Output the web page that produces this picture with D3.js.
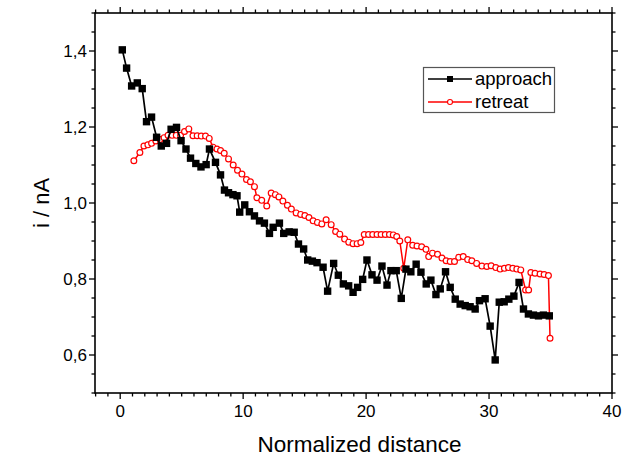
<!DOCTYPE html>
<html>
<head>
<meta charset="utf-8">
<script src="https://cdn.jsdelivr.net/npm/d3@7"></script>
<style>
  body { margin: 0; background: #fff; }
  svg { font-family: "Liberation Sans", Arial, sans-serif; }
</style>
</head>
<body>
<div id="chart"></div>
<script>
// approach (black squares)
const approachX = [0.17, 0.52, 0.93, 1.39, 1.79, 2.14, 2.55, 2.96, 3.34, 3.77,
  4.14, 4.58, 4.95, 5.35, 5.72, 6.15, 6.57, 6.99, 7.26, 7.75,
  8.16, 8.48, 8.81, 9.17, 9.5, 9.72, 10.13, 10.51, 10.92, 11.33,
  11.73, 12.14, 12.44, 12.95, 13.3, 13.74, 14.15, 14.5, 14.92, 15.25,
  15.63, 16.01, 16.5, 16.87, 17.36, 17.74, 18.15, 18.58, 18.94, 19.31,
  19.72, 20.07, 20.48, 20.89, 21.29, 21.7, 22.02, 22.45, 22.86, 23.24,
  23.64, 24.07, 24.46, 24.89, 25.27, 25.68, 26.03, 26.46, 26.84, 27.25,
  27.65, 28.06, 28.46, 28.87, 29.22, 29.68, 30.09, 30.5, 30.83, 31.23,
  31.61, 32.02, 32.44, 32.8, 33.2, 33.61, 34.02, 34.42, 34.9];
const approachY = [1.403, 1.355, 1.308, 1.316, 1.301, 1.214, 1.226, 1.173, 1.150, 1.157,
  1.194, 1.199, 1.164, 1.142, 1.118, 1.104, 1.095, 1.101, 1.142, 1.107,
  1.074, 1.034, 1.027, 1.022, 1.019, 0.976, 0.995, 0.977, 0.966, 0.953,
  0.947, 0.920, 0.936, 0.947, 0.920, 0.924, 0.923, 0.892, 0.879, 0.850,
  0.847, 0.843, 0.831, 0.768, 0.841, 0.810, 0.787, 0.782, 0.765, 0.778,
  0.799, 0.850, 0.811, 0.797, 0.834, 0.784, 0.822, 0.822, 0.749, 0.826,
  0.819, 0.839, 0.818, 0.787, 0.797, 0.759, 0.774, 0.819, 0.778, 0.747,
  0.734, 0.730, 0.727, 0.721, 0.743, 0.748, 0.676, 0.587, 0.739, 0.740,
  0.747, 0.755, 0.791, 0.721, 0.708, 0.705, 0.703, 0.705, 0.703];

// retreat (red open circles)
const retreatX = [1.11, 1.60, 1.93, 2.25, 2.55, 2.90, 3.24, 3.57, 3.89, 4.22,
  4.56, 4.91, 5.23, 5.58, 5.92, 6.26, 6.59, 6.94, 7.24, 7.55,
  7.87, 8.16, 8.46, 8.81, 9.19, 9.54, 9.90, 10.27, 10.59, 10.92,
  11.12, 11.51, 11.92, 12.28, 12.62, 12.91, 13.23, 13.60, 13.92, 14.31,
  14.68, 15.02, 15.35, 15.69, 16.04, 16.40, 16.75, 17.16, 17.52, 17.86,
  18.25, 18.59, 18.94, 19.27, 19.57, 19.85, 20.20, 20.54, 20.89, 21.22,
  21.56, 21.90, 22.21, 22.49, 22.74, 23.06, 23.39, 23.79, 24.14, 24.52,
  24.87, 25.09, 25.40, 25.81, 26.17, 26.51, 26.84, 27.19, 27.53, 27.90,
  28.26, 28.60, 28.99, 29.42, 29.82, 30.17, 30.55, 30.90, 31.25, 31.58,
  31.93, 32.26, 32.58, 32.97, 33.22, 33.40, 33.74, 34.15, 34.48, 34.83,
  34.96];
const retreatY = [1.111, 1.133, 1.150, 1.153, 1.157, 1.163, 1.167, 1.172, 1.178, 1.178,
  1.178, 1.178, 1.188, 1.195, 1.177, 1.177, 1.176, 1.176, 1.170, 1.147,
  1.142, 1.138, 1.131, 1.116, 1.100, 1.086, 1.076, 1.062, 1.056, 1.043,
  1.014, 1.007, 0.992, 1.026, 1.022, 1.016, 1.005, 0.994, 0.984, 0.974,
  0.970, 0.967, 0.962, 0.953, 0.949, 0.945, 0.956, 0.943, 0.925, 0.918,
  0.905, 0.897, 0.893, 0.893, 0.896, 0.917, 0.917, 0.917, 0.917, 0.917,
  0.917, 0.917, 0.916, 0.912, 0.900, 0.828, 0.903, 0.889, 0.887, 0.885,
  0.878, 0.859, 0.868, 0.865, 0.855, 0.848, 0.846, 0.846, 0.857, 0.859,
  0.851, 0.848, 0.841, 0.834, 0.833, 0.835, 0.830, 0.826, 0.828, 0.830,
  0.828, 0.826, 0.824, 0.771, 0.771, 0.817, 0.815, 0.813, 0.812, 0.809,
  0.644];

const xTickLabels = [0, 10, 20, 30, 40];
const yTickLabels = [0.6, 0.8, 1.0, 1.2, 1.4];
const legendNames = ["approach", "retreat"];

const width = 622, height = 459;
const margin = { top: 13, right: 10, bottom: 66, left: 95 };

const svg = d3.select("#chart").append("svg")
  .attr("width", width)
  .attr("height", height);

const x = d3.scaleLinear().domain([-2.05, 40]).range([margin.left, width - margin.right]);
const y = d3.scaleLinear().domain([0.5, 1.5]).range([height - margin.bottom, margin.top]);

const comma = d3.formatLocale({ decimal: ",", thousands: ".", grouping: [3], currency: ["", ""] });
const fmtY = comma.format(".1f");

// minor + major ticks on all four sides
const xMinor = d3.range(-2, 41, 1);
const yMinor = d3.range(0.5, 1.501, 0.05);

function isMajorX(v) { return Math.abs(v % 10) < 1e-6; }
function isMajorY(v) { return yTickLabels.some(t => Math.abs(t - v) < 1e-6); }

const x0 = margin.left, x1 = width - margin.right;
const y0 = height - margin.bottom, y1 = margin.top;

const ticks = svg.append("g").attr("stroke", "#000").attr("stroke-width", 1.3);
xMinor.forEach(v => {
  const len = isMajorX(v) ? 6 : 3.5;
  ticks.append("line").attr("x1", x(v)).attr("x2", x(v)).attr("y1", y0).attr("y2", y0 + len);
  ticks.append("line").attr("x1", x(v)).attr("x2", x(v)).attr("y1", y1).attr("y2", y1 - len);
});
yMinor.forEach(v => {
  const len = isMajorY(v) ? 6 : 3.5;
  ticks.append("line").attr("x1", x0).attr("x2", x0 - len).attr("y1", y(v)).attr("y2", y(v));
  ticks.append("line").attr("x1", x1).attr("x2", x1 + len).attr("y1", y(v)).attr("y2", y(v));
});

// frame
svg.append("rect")
  .attr("x", x0).attr("y", y1)
  .attr("width", x1 - x0).attr("height", y0 - y1)
  .attr("fill", "none").attr("stroke", "#000").attr("stroke-width", 1.6);

// tick labels
svg.append("g").selectAll("text")
  .data(xTickLabels)
  .enter().append("text")
  .attr("x", d => x(d)).attr("y", y0 + 24)
  .attr("text-anchor", "middle")
  .style("font-size", "17px")
  .text(d => d);

svg.append("g").selectAll("text")
  .data(yTickLabels)
  .enter().append("text")
  .attr("x", x0 - 8).attr("y", d => y(d) + 6)
  .attr("text-anchor", "end")
  .style("font-size", "17px")
  .text(d => fmtY(d));

// axis titles
svg.append("text")
  .attr("x", (x0 + x1) / 2 + 6).attr("y", 452)
  .attr("text-anchor", "middle")
  .style("font-size", "22.5px")
  .text("Normalized distance");

svg.append("text")
  .attr("transform", `translate(49, ${(y0 + y1) / 2}) rotate(-90)`)
  .attr("text-anchor", "middle")
  .style("font-size", "22px")
  .text("i / nA");

const approach = approachX.map((v, i) => [v, approachY[i]]);
const retreat = retreatX.map((v, i) => [v, retreatY[i]]);
const line = d3.line().x(d => x(d[0])).y(d => y(d[1]));

// retreat
svg.append("path").datum(retreat)
  .attr("d", line).attr("fill", "none")
  .attr("stroke", "#ff0000").attr("stroke-width", 1.5);
svg.append("g").selectAll("circle")
  .data(retreat).enter().append("circle")
  .attr("cx", d => x(d[0])).attr("cy", d => y(d[1]))
  .attr("r", 2.9)
  .attr("fill", "#fff").attr("stroke", "#ff0000").attr("stroke-width", 1.2);

// approach
svg.append("path").datum(approach)
  .attr("d", line).attr("fill", "none")
  .attr("stroke", "#000").attr("stroke-width", 1.7);
svg.append("g").selectAll("rect")
  .data(approach).enter().append("rect")
  .attr("x", d => x(d[0]) - 3.7).attr("y", d => y(d[1]) - 3.7)
  .attr("width", 7.4).attr("height", 7.4)
  .attr("fill", "#000");

// legend
const lg = svg.append("g");
lg.append("rect")
  .attr("x", 423.5).attr("y", 67.5).attr("width", 131).attr("height", 45)
  .attr("fill", "#fff").attr("stroke", "#555").attr("stroke-width", 1.2);
const rows = [
  { name: legendNames[0], color: "#000", y: 79 },
  { name: legendNames[1], color: "#ff0000", y: 102 }
];
rows.forEach((r, i) => {
  lg.append("line").attr("x1", 428).attr("x2", 472).attr("y1", r.y).attr("y2", r.y)
    .attr("stroke", r.color).attr("stroke-width", 1.6);
  if (i === 0) {
    lg.append("rect").attr("x", 447).attr("y", r.y - 3).attr("width", 6).attr("height", 6).attr("fill", "#000");
  } else {
    lg.append("circle").attr("cx", 450).attr("cy", r.y).attr("r", 2.5)
      .attr("fill", "#fff").attr("stroke", r.color).attr("stroke-width", 1.1);
  }
  lg.append("text").attr("x", 475).attr("y", r.y + 6)
    .style("font-size", "18.5px")
    .text(r.name);
});
</script>
</body>
</html>
